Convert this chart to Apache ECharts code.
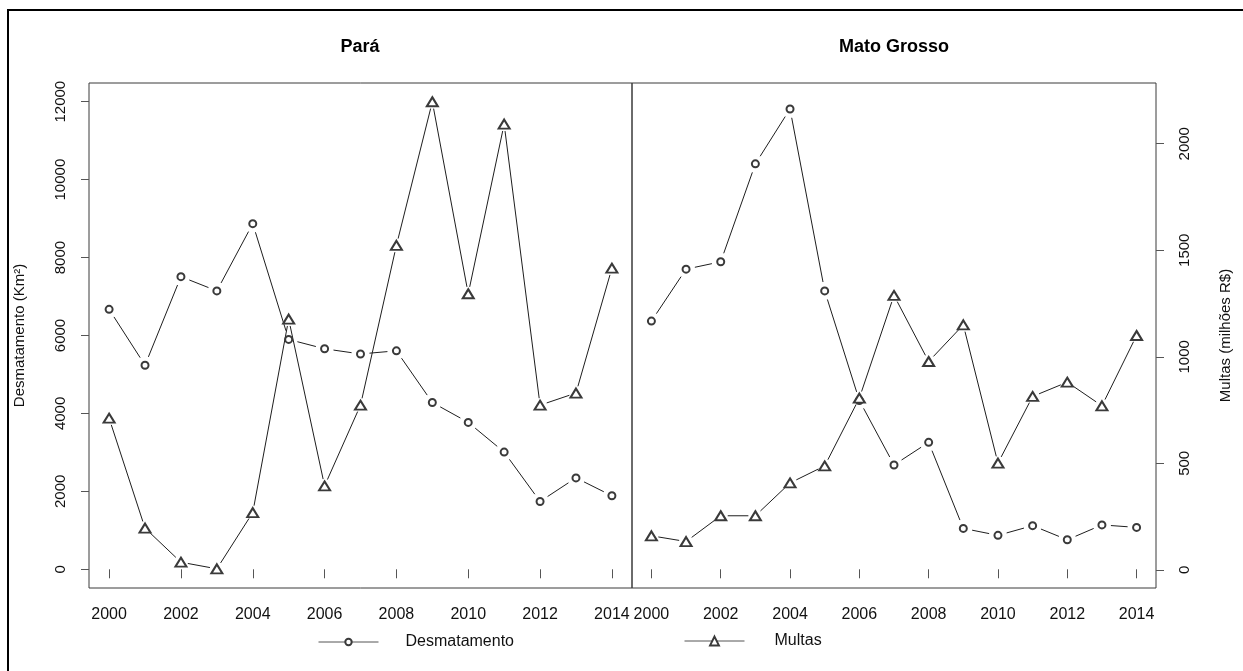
<!DOCTYPE html>
<html>
<head>
<meta charset="utf-8">
<title>Desmatamento e Multas — Pará e Mato Grosso</title>
<script src="https://cdn.jsdelivr.net/npm/echarts@6/dist/echarts.min.js"></script>
<style>
  html, body { margin: 0; padding: 0; background: #fff; }
  #chart { width: 1243px; height: 671px; }
</style>
</head>
<body>
<div id="chart"></div>
<script>
// Years of observation
const years = [2000, 2001, 2002, 2003, 2004, 2005, 2006, 2007, 2008, 2009, 2010, 2011, 2012, 2013, 2014];

// Deforestation (km²)
const desmatPara = [6671, 5237, 7510, 7145, 8870, 5899, 5659, 5526, 5607, 4281, 3770, 3008, 1741, 2346, 1887];
const desmatMT   = [6369, 7703, 7892, 10405, 11814, 7145, 4333, 2678, 3258, 1049, 871, 1120, 757, 1139, 1075];

// Fines (millions R$)
const multasPara = [712, 196, 36, 5, 269, 1177, 394, 773, 1523, 2197, 1296, 2092, 773, 830, 1416];
const multasMT   = [160, 133, 254, 254, 408, 488, 806, 1288, 978, 1150, 501, 814, 881, 770, 1100];

// Tick labels
const yearTicks   = [2000, 2002, 2004, 2006, 2008, 2010, 2012, 2014];
const desmatTicks = [0, 2000, 4000, 6000, 8000, 10000, 12000];
const multasTicks = [0, 500, 1000, 1500, 2000];

const FONT = 'Liberation Sans, Arial, sans-serif';
const FONT_NARROW = 'Liberation Sans Narrow, Liberation Sans, Arial, sans-serif';
const INK = '#1e1e1e';
const MARK = '#3a3a3a';
const BOX = '#3a3a3a';

// Axis ranges padded 4% on each side, as in classic base graphics
const xRange = [1999.44, 2014.56];
const desmatRange = [-480, 12480];
const multasRange = [-85, 2285];

const pairs = (xs, ys) => xs.map((x, i) => [x, ys[i]]);

// Connecting segments that stop short of each marker ("both" style)
function gapSegments(xs, ys, gap) {
  return function (params, api) {
    const i = params.dataIndex;
    if (i === 0) return null;
    const a = api.coord([xs[i - 1], ys[i - 1]]);
    const b = api.coord([xs[i], ys[i]]);
    const dx = b[0] - a[0], dy = b[1] - a[1];
    const len = Math.hypot(dx, dy);
    if (len <= 2 * gap) return null;
    const ux = dx / len, uy = dy / len;
    return {
      type: 'line',
      shape: { x1: a[0] + ux * gap, y1: a[1] + uy * gap, x2: b[0] - ux * gap, y2: b[1] - uy * gap },
      style: { stroke: INK, lineWidth: 1 }
    };
  };
}

function segSeries(xIdx, yIdx, ys, gap) {
  return {
    type: 'custom',
    xAxisIndex: xIdx,
    yAxisIndex: yIdx,
    data: pairs(years, ys),
    encode: { x: 0, y: 1 },
    renderItem: gapSegments(years, ys, gap),
    silent: true,
    z: 2
  };
}

function markerSeries(name, xIdx, yIdx, ys, symbol, size) {
  return {
    name: name,
    type: 'line',
    xAxisIndex: xIdx,
    yAxisIndex: yIdx,
    data: pairs(years, ys),
    symbol: symbol,
    symbolSize: size,
    showAllSymbol: true,
    lineStyle: { opacity: 0, width: 0 },
    itemStyle: { color: MARK, borderColor: MARK, borderWidth: 1 },
    emphasis: { disabled: true },
    z: 3
  };
}

const xAxisBase = (gridIndex) => ({
  type: 'value',
  gridIndex: gridIndex,
  min: xRange[0],
  max: xRange[1],
  axisLine: { show: false },
  splitLine: { show: false },
  axisTick: { show: true, length: 9, customValues: yearTicks, lineStyle: { color: '#555' } },
  axisLabel: {
    customValues: yearTicks,
    margin: 19,
    color: '#111',
    fontFamily: FONT,
    fontSize: 16,
    formatter: (v) => String(v)
  }
});

function yAxisBase(gridIndex, range, ticks, position, visible, name, nameGap) {
  return {
    type: 'value',
    gridIndex: gridIndex,
    position: position,
    min: range[0],
    max: range[1],
    show: visible,
    name: name,
    nameLocation: 'middle',
    nameRotate: 90,
    nameGap: nameGap,
    nameTextStyle: { color: '#111', fontFamily: FONT, fontSize: 15 },
    axisLine: { show: false },
    splitLine: { show: false },
    axisTick: { show: true, length: 8, customValues: ticks, lineStyle: { color: '#555' } },
    axisLabel: {
      customValues: ticks,
      rotate: 90,
      margin: 21,
      color: '#111',
      fontFamily: FONT_NARROW,
      fontSize: 15,
      formatter: (v) => String(v)
    }
  };
}

const chart = echarts.init(document.getElementById('chart'), null, { renderer: 'canvas' });

chart.setOption({
  animation: false,
  backgroundColor: '#fff',
  title: [
    { text: 'Pará', left: 360, top: 38, textAlign: 'center', padding: 0,
      textStyle: { fontFamily: FONT, fontSize: 18, fontWeight: 'bold', color: '#000' } },
    { text: 'Mato Grosso', left: 894, top: 38, textAlign: 'center', padding: 0,
      textStyle: { fontFamily: FONT, fontSize: 18, fontWeight: 'bold', color: '#000' } }
  ],
  grid: [
    { left: 89, top: 83, width: 543, height: 505, show: true, borderColor: BOX, borderWidth: 1, backgroundColor: 'transparent' },
    { left: 632, top: 83, width: 524, height: 505, show: true, borderColor: BOX, borderWidth: 1, backgroundColor: 'transparent' }
  ],
  xAxis: [xAxisBase(0), xAxisBase(1)],
  yAxis: [
    yAxisBase(0, desmatRange, desmatTicks, 'left', true, 'Desmatamento (Km²)', 62),
    yAxisBase(0, multasRange, multasTicks, 'right', false, '', 0),
    yAxisBase(1, desmatRange, desmatTicks, 'left', false, '', 0),
    yAxisBase(1, multasRange, multasTicks, 'right', true, 'Multas (milhões R$)', 62)
  ],
  legend: [
    {
      data: ['Desmatamento'],
      left: 318, top: 634,
      itemWidth: 60, itemHeight: 8,
      padding: 0,
      selectedMode: false,
      lineStyle: { color: '#555', width: 1, opacity: 1 },
      textStyle: { fontFamily: FONT, fontSize: 16, color: '#111', padding: [0, 0, 0, 22] }
    },
    {
      data: ['Multas'],
      left: 684, top: 633,
      itemWidth: 60, itemHeight: 11,
      padding: 0,
      selectedMode: false,
      lineStyle: { color: '#555', width: 1, opacity: 1 },
      textStyle: { fontFamily: FONT, fontSize: 16, color: '#111', padding: [0, 0, 0, 25] }
    }
  ],
  graphic: [
    {
      type: 'rect',
      shape: { x: 8, y: 10, width: 1300, height: 700 },
      style: { fill: 'none', stroke: '#000', lineWidth: 2 },
      silent: true
    }
  ],
  series: [
    // Pará
    segSeries(0, 0, desmatPara, 9),
    markerSeries('Desmatamento', 0, 0, desmatPara, 'emptyCircle', 7),
    segSeries(0, 1, multasPara, 7),
    markerSeries('Multas', 0, 1, multasPara, 'emptyTriangle', [11, 9]),
    // Mato Grosso
    segSeries(1, 2, desmatMT, 9),
    markerSeries('Desmatamento', 1, 2, desmatMT, 'emptyCircle', 7),
    segSeries(1, 3, multasMT, 7),
    markerSeries('Multas', 1, 3, multasMT, 'emptyTriangle', [11, 9])
  ]
});
</script>
</body>
</html>
